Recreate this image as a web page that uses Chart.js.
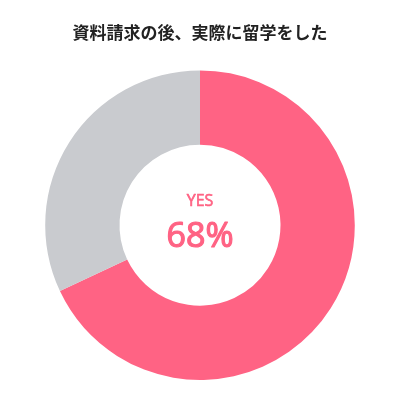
<!DOCTYPE html>
<html><head><meta charset="utf-8">
<script src="https://cdn.jsdelivr.net/npm/chart.js@4"></script>
<style>html,body{margin:0;padding:0;background:#fff}</style>
</head><body>
<canvas id="c" width="400" height="400"></canvas>
<script>
const titleText = "資料請求の後、実際に留学をした";
const labels = ["YES", "NO"];
const values = [68, 32];
const colors = ["#ff6384", "#c9cbcf"];
const centerLabel = "YES";
const centerValue = "68%";

const centerText = {
  id: 'centerText',
  afterDraw(chart) {
    const ctx = chart.ctx;
    const meta = chart.getDatasetMeta(0).data[0];
    const x = meta.x, y = meta.y;
    ctx.save();
    ctx.fillStyle = colors[0];
    ctx.strokeStyle = colors[0];
    ctx.lineJoin = 'round';
    ctx.textAlign = 'center';
    ctx.textBaseline = 'middle';
    ctx.font = '16px "Open Sans", "Noto Sans", sans-serif';
    ctx.lineWidth = 0.6;
    ctx.fillText(centerLabel, x, y - 24);
    ctx.strokeText(centerLabel, x, y - 24);
    ctx.font = '34px "Open Sans", "Noto Sans", sans-serif';
    ctx.lineWidth = 1.2;
    ctx.fillText(centerValue, x, y + 12);
    ctx.strokeText(centerValue, x, y + 12);
    ctx.restore();
  }
};

new Chart(document.getElementById('c'), {
  type: 'doughnut',
  data: { labels: labels, datasets: [{ data: values, backgroundColor: colors, borderWidth: 0 }] },
  options: {
    responsive: false,
    animation: false,
    cutout: '52%',
    layout: { padding: { bottom: 20 } },
    plugins: {
      legend: { display: false },
      tooltip: { enabled: false },
      title: {
        display: true, text: titleText, color: '#222',
        font: { size: 17, weight: 'bold', family: '"Noto Sans CJK JP", sans-serif' },
        padding: { top: 22, bottom: 28 }
      }
    }
  },
  plugins: [centerText]
});
</script>
</body></html>
